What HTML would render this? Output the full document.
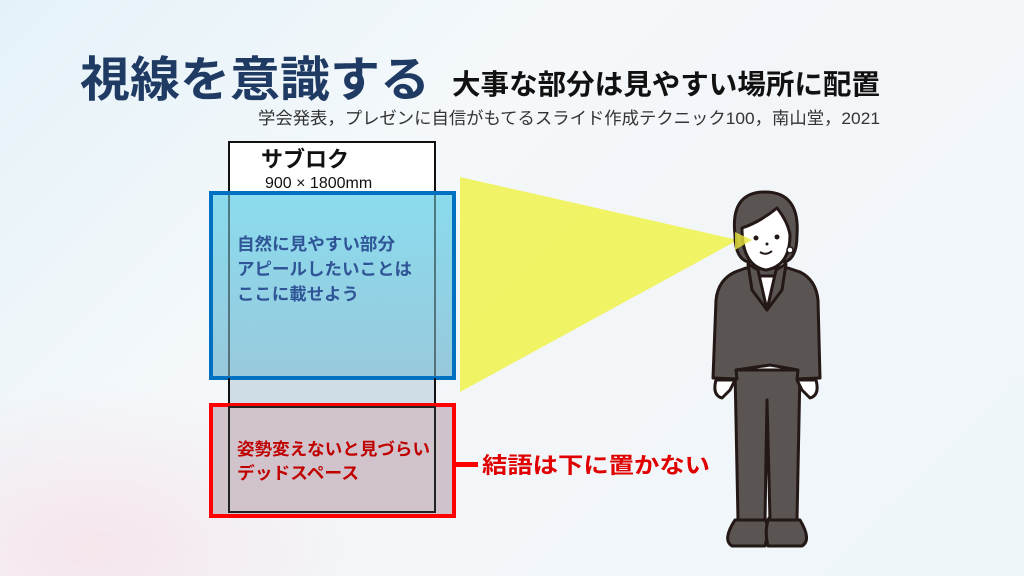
<!DOCTYPE html>
<html><head><meta charset="utf-8"><style>
html,body{margin:0;padding:0;width:1024px;height:576px;overflow:hidden}
body{background:linear-gradient(135deg,#e4f2f8 0%,#f4f8fb 35%,#f3f6f9 55%,#eef6fa 100%)}
svg{display:block}
text{font-family:"Liberation Sans","Noto Sans CJK JP",sans-serif}
</style></head><body>
<svg width="1024" height="576" viewBox="0 0 1024 576">
<defs>
<linearGradient id="bl" x1="0" y1="0" x2="0" y2="1"><stop offset="0" stop-color="#7dd8ec"/><stop offset="1" stop-color="#8ec3d8"/></linearGradient>
<radialGradient id="bg2" cx="0.2" cy="0.9" r="0.6"><stop offset="0" stop-color="#f6dde6" stop-opacity="0.7"/><stop offset="1" stop-color="#f6dde6" stop-opacity="0"/></radialGradient>
</defs>
<rect x="0" y="300" width="450" height="276" fill="url(#bg2)"/>
<text x="80" y="96" font-size="48" font-weight="bold" fill="#1f3a63" textLength="350" lengthAdjust="spacingAndGlyphs">視線を意識する</text>
<text x="452" y="94" font-size="28" font-weight="bold" fill="#111" textLength="428" lengthAdjust="spacingAndGlyphs">大事な部分は見やすい場所に配置</text>
<text x="258" y="124" font-size="17" fill="#333" textLength="622" lengthAdjust="spacingAndGlyphs">学会発表，プレゼンに自信がもてるスライド作成テクニック100，南山堂，2021</text>
<!-- board -->
<rect x="229" y="142" width="206" height="370" fill="#fff" stroke="#111" stroke-width="2"/>
<text x="261" y="167" font-size="22" font-weight="bold" fill="#111">サブロク</text>
<text x="265" y="188" font-size="16" fill="#111">900 × 1800mm</text>
<rect x="211" y="193" width="243" height="185" fill="url(#bl)" fill-opacity="0.9" stroke="#0070c0" stroke-width="4"/>
<rect x="230" y="380" width="204" height="25" fill="#cfdde6"/>
<line x1="229" y1="378" x2="229" y2="405" stroke="#111" stroke-width="2"/>
<line x1="435" y1="378" x2="435" y2="405" stroke="#111" stroke-width="2"/>
<line x1="229" y1="195" x2="229" y2="376" stroke="#222" stroke-width="1.5" opacity="0.6"/>
<line x1="435" y1="195" x2="435" y2="376" stroke="#222" stroke-width="1.5" opacity="0.6"/>
<g font-size="17" font-weight="bold" fill="#2f5597">
<text x="237" y="250" textLength="158" lengthAdjust="spacingAndGlyphs">自然に見やすい部分</text>
<text x="237" y="275" textLength="175" lengthAdjust="spacingAndGlyphs">アピールしたいことは</text>
<text x="237" y="300" textLength="122" lengthAdjust="spacingAndGlyphs">ここに載せよう</text></g>
<rect x="211" y="405" width="243" height="111" fill="#cbbcc6" fill-opacity="0.9" stroke="#ff0000" stroke-width="4"/>
<rect x="229" y="407" width="206" height="105" fill="none" stroke="#222" stroke-width="2"/>
<g font-size="17" font-weight="bold" fill="#c00000">
<text x="237" y="455" textLength="193" lengthAdjust="spacingAndGlyphs">姿勢変えないと見づらい</text>
<text x="237" y="479" textLength="122" lengthAdjust="spacingAndGlyphs">デッドスペース</text></g>
<rect x="456" y="462" width="22" height="5" fill="#ff0000"/>
<text x="482" y="473" font-size="22" font-weight="bold" fill="#e00000" textLength="228" lengthAdjust="spacingAndGlyphs">結語は下に置かない</text>
<!-- yellow beam -->
<polygon points="460,177 460,392 738,240" fill="#eef24a" fill-opacity="0.85"/>
<!-- person -->
<g stroke="#231815" stroke-width="3" stroke-linejoin="round">
<path d="M735,520 Q722,540 732,546 L765,546 Q770,530 765,518 Z" fill="#5a5452"/>
<path d="M800,520 Q812,540 802,546 L768,546 Q764,530 769,518 Z" fill="#5a5452"/>
<path d="M735,370 L800,370 L797,520 L770,520 L767,400 L765,520 L738,520 Z" fill="#5a5452"/>
<path d="M716,380 Q712,395 722,398 L730,390 L735,380 Z" fill="#fff"/>
<path d="M816,380 Q820,395 810,398 L802,390 L797,380 Z" fill="#fff"/>
<path d="M746,268 L735,272 Q718,280 716,300 L713,378 L737,379 L736,370 L770,365 L798,370 L797,379 L820,378 L818,300 Q816,280 800,272 L788,268 Z" fill="#5a5452"/>
<path d="M752,276 L767,308 L783,276 Z" fill="#fff"/>
<path d="M748,264 L752,290 L767,310 L758,270 Z" fill="#5a5452"/>
<path d="M786,264 L782,290 L767,310 L776,270 Z" fill="#5a5452"/>
<path d="M735,235 Q730,192 765,192 Q800,192 797,235 Q797,258 785,262 L748,262 Q735,258 735,235 Z" fill="#5a5452"/>
<path d="M742,228 Q760,222 777,208 Q788,222 790,235 Q790,266 766,270 Q742,266 742,228 Z" fill="#fff"/>
</g>
<circle cx="756" cy="238" r="2.5" fill="#231815"/><circle cx="777" cy="237" r="2.5" fill="#231815"/>
<circle cx="767" cy="244" r="1.5" fill="#231815"/>
<path d="M760,252 Q766,256 772,251" stroke="#231815" stroke-width="2" fill="none"/>
<circle cx="790" cy="250" r="3" fill="#fff" stroke="#231815" stroke-width="1.5"/>
<polygon points="735,232 735,250 752,240" fill="#e8e63a" fill-opacity="0.8"/>
</svg>
</body></html>
